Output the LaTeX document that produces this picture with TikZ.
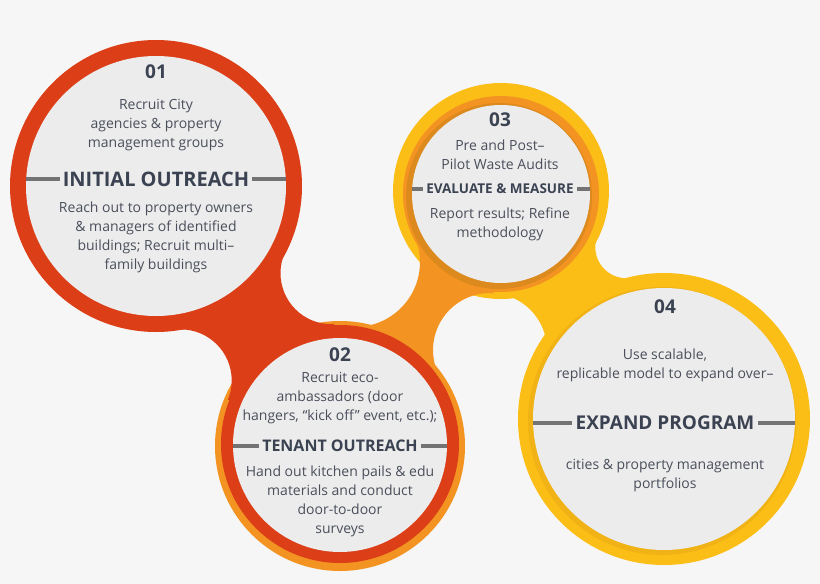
\documentclass[tikz,border=0pt]{standalone}
\usepackage{fontspec}
\setmainfont{Open Sans}
\usepackage{tikz}
\usetikzlibrary{positioning}
\definecolor{bgcol}{HTML}{F6F6F6}
\definecolor{redring}{HTML}{DC3F18}
\definecolor{orangering}{HTML}{F39322}
\definecolor{yellowring}{HTML}{FBBE17}
\definecolor{orangeshade}{HTML}{DC8A1E}
\definecolor{yellowshade}{HTML}{F0B214}
\definecolor{discgray}{HTML}{ECECEC}
\definecolor{inkdark}{HTML}{3B4252}
\definecolor{inkbody}{HTML}{4A4F5B}
\definecolor{rulegray}{HTML}{737373}
\tikzstyle{ring}=[circle, inner sep=0pt]
\tikzstyle{disc}=[circle, inner sep=0pt, fill=discgray]
\tikzstyle{num}=[font=\bfseries\fontsize{19}{19}\selectfont, text=inkdark]
\tikzstyle{head}=[text=inkdark, inner sep=3pt]
\tikzstyle{body}=[align=center, font=\fontsize{14}{19}\selectfont, text=inkbody]
\tikzstyle{divider}=[draw=rulegray, line width=3.5pt]

\begin{document}
\begin{tikzpicture}[x=1pt, y=-1pt, node distance=56pt]
  \fill[bgcol] (0,0) rectangle (820,584);
  \useasboundingbox (0,0) rectangle (820,584);

  % centres of the steps
  \coordinate (c1) at (156,186);
  \coordinate (c2) at (340,445);
  \coordinate (c3) at (501,194);
  \coordinate (c4) at (664,419);
  % holes that shape the necks
  \coordinate (hA) at (331.5,273.2);
  \coordinate (hB) at (180.7,380.4);
  \coordinate (hC) at (355,262);
  \coordinate (hD) at (490,350);
  \coordinate (hE) at (626.3,247.2);

  % outer fringes
  \fill[orangering] (340,446) circle[radius=125];
  \fill[yellowring] (501,191) circle[radius=108];

  % necks
  \begin{scope}
    \clip (c1) -- (hA) -- (c2) -- (hB) -- cycle;
    \fill[redring, even odd rule] (0,0) rectangle (820,584)
      (hA) circle[radius=51] (hB) circle[radius=51];
  \end{scope}
  \begin{scope}
    \clip (c2) -- (hC) -- (c3) -- (hD) -- cycle;
    \fill[orangering, even odd rule] (0,0) rectangle (820,584)
      (hC) circle[radius=65] (hD) circle[radius=57];
  \end{scope}
  \begin{scope}
    \clip (c3) -- (hE) -- (c4) -- (hD) -- cycle;
    \fill[yellowring, even odd rule] (0,0) rectangle (820,584)
      (hE) circle[radius=31] (hD) circle[radius=57];
  \end{scope}

  \node[ring, fill=redring, minimum size=292pt] (r1) at (c1) {};
  \node[ring, fill=redring, minimum size=238pt] (r2) at (340,444) {};
  \node[ring, fill=orangering, minimum size=196pt] (r3) at (c3) {};
  \node[ring, fill=yellowring, minimum size=292pt] (r4) at (c4) {};
  \fill[orangeshade] (499,196) circle[radius=93];
  \fill[yellowshade] (662,421) circle[radius=134];

  \node[disc, minimum size=260pt] (g1) at (c1) {};
  \node[disc, minimum size=214pt] (g2) at (c2) {};
  \node[disc, minimum size=178pt] (g3) at (c3) {};
  \node[disc, minimum size=262pt] (g4) at (c4) {};

  % step 01
  \node[head, font=\bfseries\fontsize{20}{20}\selectfont] (h1) at (156,179) {INITIAL OUTREACH};
  \node[num] (n1) [above of=h1, yshift=51pt] {01};
  \node[body] (t1) [above of=h1, yshift=-2pt] {Recruit City\\agencies \& property\\management groups};
  \node[body] (b1) [below of=h1, yshift=-2.5pt] {Reach out to property owners\\\& managers of identified\\buildings; Recruit multi–\\family buildings};
  \draw[divider] (h1.west) -- (h1.west -| g1.west);
  \draw[divider] (h1.east) -- (h1.east -| g1.east);

  % step 02
  \node[head, font=\bfseries\fontsize{16}{16}\selectfont] (h2) at (340,446) {TENANT OUTREACH};
  \node[num] (n2) [above of=h2, yshift=35pt] {02};
  \node[body] (t2) [above of=h2, yshift=-8pt] {Recruit eco-\\ambassadors (door\\hangers, “kick off” event, etc.);};
  \node[body] (b2) [below of=h2, yshift=0.5pt] {Hand out kitchen pails \& edu\\materials and conduct\\door-to-door\\surveys};
  \draw[divider] (h2.west) -- (h2.west -| g2.west);
  \draw[divider] (h2.east) -- (h2.east -| g2.east);

  % step 03
  \node[head, font=\bfseries\fontsize{13.5}{13.5}\selectfont] (h3) at (500,189) {EVALUATE \& MEASURE};
  \node[num] (n3) [above of=h3, yshift=13pt] {03};
  \node[body] (t3) [above of=h3, yshift=-21.5pt] {Pre and Post–\\Pilot Waste Audits};
  \node[body] (b3) [below of=h3, yshift=20.5pt] {Report results; Refine\\methodology};
  \draw[divider] (h3.west) -- (h3.west -| g3.west);
  \draw[divider] (h3.east) -- (h3.east -| g3.east);

  % step 04
  \node[head, font=\bfseries\fontsize{19}{19}\selectfont] (h4) at (665,423) {EXPAND PROGRAM};
  \node[num] (n4) [above of=h4, yshift=60pt] {04};
  \node[body] (t4) [above of=h4, yshift=1.5pt] {Use scalable,\\replicable model to expand over–};
  \node[body] (b4) [below of=h4, yshift=3pt] {cities \& property management\\portfolios};
  \draw[divider] (h4.west) -- (h4.west -| g4.west);
  \draw[divider] (h4.east) -- (h4.east -| g4.east);
\end{tikzpicture}
\end{document}
